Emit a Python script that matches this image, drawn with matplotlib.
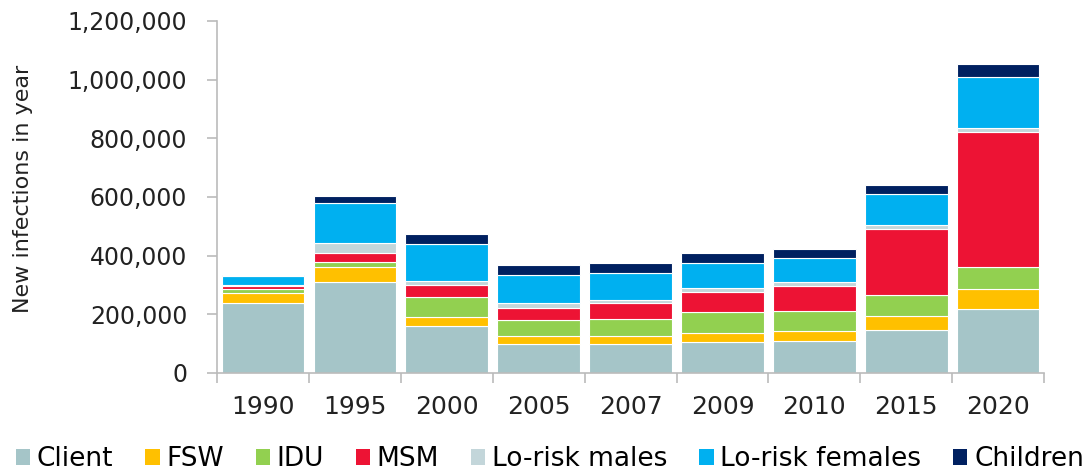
import matplotlib
matplotlib.use("Agg")
import matplotlib.pyplot as plt
import numpy as np
from matplotlib.ticker import FuncFormatter, FixedLocator

plt.rcParams['font.family'] = ['DejaVu Sans']

years = ["1990", "1995", "2000", "2005", "2007", "2009", "2010", "2015", "2020"]
series_names = ["Client", "FSW", "IDU", "MSM", "Lo-risk males", "Lo-risk females", "Children"]
client = [237000, 309000, 160000, 99000, 99000, 106000, 110000, 147000, 219000]
fsw = [34000, 52000, 32000, 26000, 28000, 30000, 33000, 48000, 66000]
idu = [14000, 18000, 66000, 54000, 57000, 70000, 69000, 70000, 77000]
msm = [11000, 31000, 42000, 43000, 54000, 70000, 84000, 225000, 458000]
lo_males = [2000, 32000, 14000, 15000, 11000, 14000, 14000, 14000, 16000]
lo_females = [32000, 138000, 126000, 95000, 91000, 85000, 83000, 106000, 172000]
children = [2000, 23000, 34000, 35000, 34000, 32000, 30000, 32000, 44000]
colors = ["#A5C5C8", "#FFC000", "#92D050", "#ED1334", "#C3D6DA", "#00B0F0", "#002060"]

data = [client, fsw, idu, msm, lo_males, lo_females, children]

fig = plt.figure(figsize=(10.91, 4.75), dpi=100)
ax = fig.add_axes([0.199, 0.215, 0.758, 0.741])

x = np.arange(len(years))
bottom = np.zeros(len(years))
for name, vals, c in zip(series_names, data, colors):
    ax.bar(x, vals, 0.9, bottom=bottom, color=c, edgecolor="white", linewidth=0.8, label=name)
    bottom += np.array(vals)

ax.set_xlim(-0.5, len(years) - 0.5)
ax.set_ylim(0, 1200000)
ax.set_yticks(np.arange(0, 1200001, 200000))
ax.yaxis.set_major_formatter(FuncFormatter(lambda v, p: f"{int(v):,}"))
ax.set_xticks(x)
ax.set_xticklabels(years)
ax.xaxis.set_minor_locator(FixedLocator(np.arange(-0.5, len(years), 1.0)))
ax.tick_params(axis='x', which='major', length=0, pad=16, labelsize=18, colors='#222222')
ax.tick_params(axis='x', which='minor', length=7, color='#BBBBBB', width=1.2)
ax.tick_params(axis='y', length=7.5, color='#BBBBBB', width=1.2, pad=14, labelsize=17, labelcolor='#222222')

for s in ['top', 'right']:
    ax.spines[s].set_visible(False)
for s in ['left', 'bottom']:
    ax.spines[s].set_color('#BBBBBB')
    ax.spines[s].set_linewidth(1.2)

ax.set_ylabel("New infections in year", fontsize=16, color='#222222')
ax.yaxis.set_label_coords(-0.2225, 0.523)

handles, labels = ax.get_legend_handles_labels()
leg = fig.legend(handles, labels, loc='center', bbox_to_anchor=(0.504, 0.033), ncol=7,
                 frameon=False, fontsize=19, handlelength=0.55, handleheight=0.55,
                 handletextpad=0.25, columnspacing=1.2, borderaxespad=0)
for h in leg.legend_handles:
    h.set_edgecolor('none')

fig.savefig("out.png", dpi=100)
